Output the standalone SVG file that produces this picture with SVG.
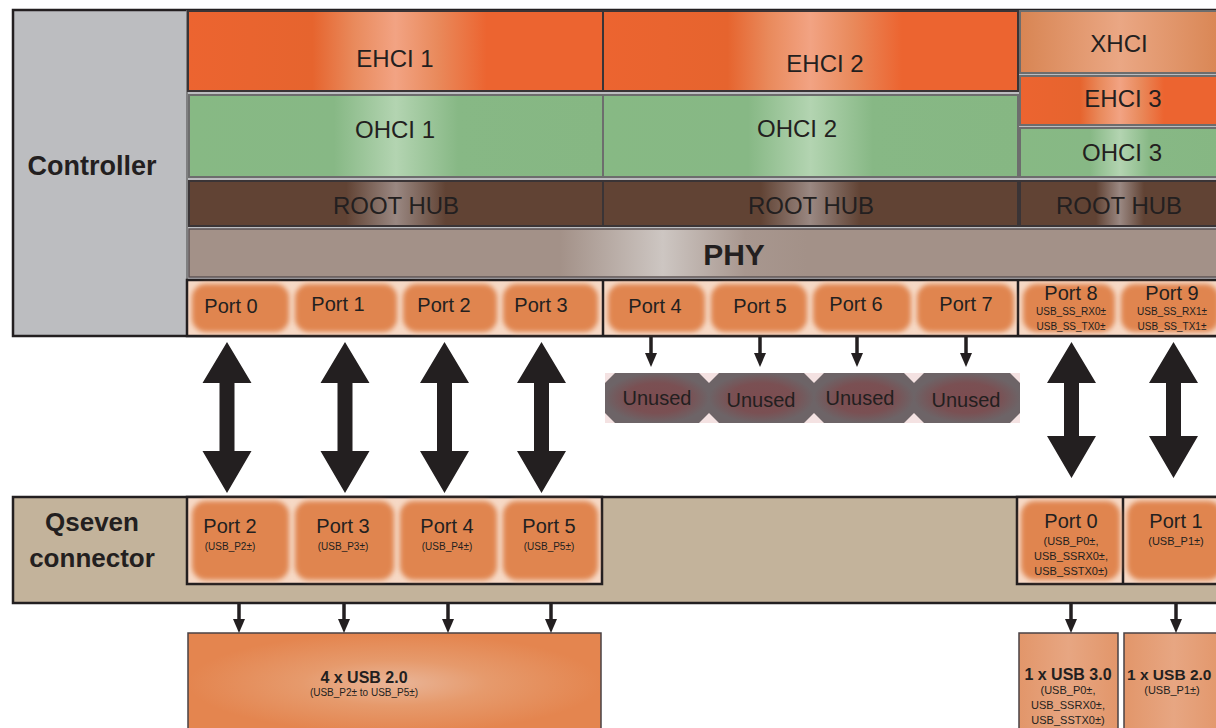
<svg xmlns="http://www.w3.org/2000/svg" width="1216" height="728" viewBox="0 0 1216 728">
<defs>
<style>
text{font-family:"Liberation Sans",Arial,sans-serif;fill:#231f20;text-anchor:middle}
.t24{font-size:24px}
.t20{font-size:20px}
.t10{font-size:10px}
.t11{font-size:11px}
.b{font-weight:bold}
.edge{stroke:#231f20;stroke-width:2.5}
.thin{stroke:#3a3436;stroke-width:2}
.gry{stroke:#6d6d6d;stroke-width:2}
.blob{fill:#e0854f;filter:url(#blur)}
.cellbg{fill:#f6d9c6}
.arrow{fill:#231f20}
.sarrow{stroke:#231f20;stroke-width:3.5;marker-end:url(#ah)}
</style>
<linearGradient id="gE" x1="0" x2="1" y1="0" y2="0">
<stop offset="0" stop-color="#ec6430"/><stop offset="0.3" stop-color="#e6642e"/><stop offset="0.4" stop-color="#e98a5c"/><stop offset="0.5" stop-color="#f2a383"/><stop offset="0.6" stop-color="#e98a5c"/><stop offset="0.72" stop-color="#ec6430"/><stop offset="1" stop-color="#ec6430"/>
</linearGradient>
<linearGradient id="gX" x1="0" x2="1" y1="0" y2="0">
<stop offset="0" stop-color="#d88553"/><stop offset="0.5" stop-color="#eaa784"/><stop offset="1" stop-color="#d98654"/>
</linearGradient>
<linearGradient id="gO" x1="0" x2="1" y1="0" y2="0">
<stop offset="0" stop-color="#87b984"/><stop offset="0.35" stop-color="#87b885"/><stop offset="0.5" stop-color="#b3d4b1"/><stop offset="0.65" stop-color="#87b885"/><stop offset="1" stop-color="#86b783"/>
</linearGradient>
<linearGradient id="gR" x1="0" x2="1" y1="0" y2="0">
<stop offset="0" stop-color="#614334"/><stop offset="0.38" stop-color="#614334"/><stop offset="0.5" stop-color="#9a8882"/><stop offset="0.62" stop-color="#614334"/><stop offset="1" stop-color="#614334"/>
</linearGradient>
<linearGradient id="gP" x1="0" x2="1" y1="0" y2="0">
<stop offset="0" stop-color="#a39188"/><stop offset="0.36" stop-color="#a39188"/><stop offset="0.46" stop-color="#cdc6c2"/><stop offset="0.54" stop-color="#a8978f"/><stop offset="0.6" stop-color="#a39188"/><stop offset="1" stop-color="#a39188"/>
</linearGradient>
<radialGradient id="gU" cx="0.5" cy="0.5" r="0.5">
<stop offset="0" stop-color="#7c4c50"/><stop offset="0.6" stop-color="#7a5053"/><stop offset="1" stop-color="#6d6467"/>
</radialGradient>
<radialGradient id="gL" cx="0.5" cy="0.5" r="0.5">
<stop offset="0" stop-color="#e9b598"/><stop offset="0.45" stop-color="#e69a6c"/><stop offset="1" stop-color="#e4854f"/>
</radialGradient>
<linearGradient id="gL2" x1="0" x2="1" y1="0" y2="0">
<stop offset="0" stop-color="#e2966a"/><stop offset="0.5" stop-color="#e7a682"/><stop offset="1" stop-color="#e2966a"/>
</linearGradient>
<filter id="blur" x="-10%" y="-15%" width="120%" height="130%"><feGaussianBlur stdDeviation="2.5"/></filter>
<marker id="ah" viewBox="0 0 14 12" refX="6" refY="6" markerWidth="14" markerHeight="12" orient="auto" markerUnits="userSpaceOnUse">
<path d="M0,0 L14,6 L0,12 Z" fill="#231f20"/>
</marker>
</defs>
<rect width="1216" height="728" fill="#ffffff"/>

<g id="controller">
<rect x="13" y="10" width="1220" height="326" fill="#bcbdc0" class="edge"/>
<line x1="187" y1="10" x2="187" y2="336" stroke="#6d6d6d" stroke-width="1.5"/>
<text x="92" y="175" class="b" style="font-size:27px">Controller</text>
</g>

<g id="ehci1"><rect x="188" y="11" width="415" height="80" fill="url(#gE)" class="thin"/><text x="395" y="67" class="t24">EHCI 1</text></g>
<g id="ehci2"><rect x="603" y="11" width="415" height="80" fill="url(#gE)" class="thin"/><text x="825" y="72" class="t24">EHCI 2</text></g>
<g id="xhci"><rect x="1020" y="11" width="200" height="62" fill="url(#gX)" class="gry"/><text x="1119" y="52" class="t24">XHCI</text></g>
<g id="ehci3"><rect x="1020" y="76" width="200" height="49" fill="url(#gE)" class="gry"/><text x="1123" y="107" class="t24">EHCI 3</text></g>
<g id="ohci1"><rect x="189" y="95" width="414" height="82" fill="url(#gO)" class="gry"/><text x="395" y="138" class="t24">OHCI 1</text></g>
<g id="ohci2"><rect x="603" y="95" width="415" height="82" fill="url(#gO)" class="gry"/><text x="797" y="137" class="t24">OHCI 2</text></g>
<g id="ohci3"><rect x="1020" y="128" width="200" height="49" fill="url(#gO)" class="gry"/><text x="1122" y="161" class="t24">OHCI 3</text></g>
<g id="roothub1"><rect x="189" y="181" width="414" height="45" fill="url(#gR)" class="thin"/><text x="396" y="214" class="t24">ROOT HUB</text></g>
<g id="roothub2"><rect x="603" y="181" width="415" height="45" fill="url(#gR)" class="thin"/><text x="811" y="214" class="t24">ROOT HUB</text></g>
<g id="roothub3"><rect x="1020" y="181" width="200" height="45" fill="url(#gR)" class="thin"/><text x="1119" y="214" class="t24">ROOT HUB</text></g>
<g id="phy"><rect x="189" y="229" width="1030" height="48" fill="url(#gP)" stroke="#5e5455" stroke-width="1.5"/><text x="734" y="265" class="b" style="font-size:30px">PHY</text></g>

<g id="ctrl-ports">
<rect x="187" y="280" width="1033" height="56" class="cellbg edge"/>
<line x1="603" y1="280" x2="603" y2="336" class="edge"/>
<line x1="1018" y1="280" x2="1018" y2="336" class="edge"/>
</g>
<g id="port0"><rect x="192" y="284" width="97" height="48" rx="14" class="blob"/><text x="231" y="313" class="t20">Port 0</text></g>
<g id="port1"><rect x="295" y="284" width="102" height="48" rx="14" class="blob"/><text x="338" y="311" class="t20">Port 1</text></g>
<g id="port2"><rect x="403" y="284" width="94" height="48" rx="14" class="blob"/><text x="444" y="312" class="t20">Port 2</text></g>
<g id="port3"><rect x="503" y="284" width="95" height="48" rx="14" class="blob"/><text x="541" y="312" class="t20">Port 3</text></g>
<g id="port4"><rect x="608" y="284" width="97" height="48" rx="14" class="blob"/><text x="655" y="313" class="t20">Port 4</text></g>
<g id="port5"><rect x="711" y="284" width="96" height="48" rx="14" class="blob"/><text x="760" y="313" class="t20">Port 5</text></g>
<g id="port6"><rect x="813" y="284" width="98" height="48" rx="14" class="blob"/><text x="856" y="311" class="t20">Port 6</text></g>
<g id="port7"><rect x="917" y="284" width="97" height="48" rx="14" class="blob"/><text x="966" y="311" class="t20">Port 7</text></g>
<g id="port8"><rect x="1023" y="284" width="92" height="48" rx="14" class="blob"/><text x="1071" y="300" class="t20">Port 8</text><text x="1071" y="315" class="t10">USB_SS_RX0±</text><text x="1071" y="330" class="t10">USB_SS_TX0±</text></g>
<g id="port9"><rect x="1121" y="284" width="98" height="48" rx="14" class="blob"/><text x="1172" y="300" class="t20">Port 9</text><text x="1172" y="315" class="t10">USB_SS_RX1±</text><text x="1172" y="330" class="t10">USB_SS_TX1±</text></g>

<g id="unused-bg"><rect x="605" y="373" width="415" height="50" fill="#f4e2e2"/></g>
<g id="unused4"><path d="M615,373 H699 L709,383 V413 L699,423 H615 L605,413 V383 Z" fill="url(#gU)"/><text x="657" y="405" class="t20">Unused</text></g>
<g id="unused5"><path d="M719,373 H804 L814,383 V413 L804,423 H719 L709,413 V383 Z" fill="url(#gU)"/><text x="761" y="407" class="t20">Unused</text></g>
<g id="unused6"><path d="M824,373 H904 L914,383 V413 L904,423 H824 L814,413 V383 Z" fill="url(#gU)"/><text x="860" y="405" class="t20">Unused</text></g>
<g id="unused7"><path d="M924,373 H1010 L1020,383 V413 L1010,423 H924 L914,413 V383 Z" fill="url(#gU)"/><text x="966" y="407" class="t20">Unused</text></g>

<g id="qseven">
<rect x="13" y="497" width="1220" height="106" fill="#c3b39b" class="edge"/>
<text x="92" y="531" class="b" style="font-size:26px">Qseven</text>
<text x="92" y="567" class="b" style="font-size:26px">connector</text>
<rect x="187" y="497" width="415" height="87" class="cellbg edge"/>
<rect x="1017" y="497" width="210" height="87" class="cellbg edge"/>
<line x1="1123" y1="497" x2="1123" y2="584" class="edge"/>
</g>
<g id="q-port2"><rect x="192" y="501" width="97" height="79" rx="14" class="blob"/><text x="230" y="533" class="t20">Port 2</text><text x="230" y="550" class="t10">(USB_P2±)</text></g>
<g id="q-port3"><rect x="295" y="501" width="99" height="79" rx="14" class="blob"/><text x="343" y="533" class="t20">Port 3</text><text x="343" y="550" class="t10">(USB_P3±)</text></g>
<g id="q-port4"><rect x="400" y="501" width="97" height="79" rx="14" class="blob"/><text x="447" y="533" class="t20">Port 4</text><text x="447" y="550" class="t10">(USB_P4±)</text></g>
<g id="q-port5"><rect x="503" y="501" width="95" height="79" rx="14" class="blob"/><text x="549" y="533" class="t20">Port 5</text><text x="549" y="550" class="t10">(USB_P5±)</text></g>
<g id="q-port0"><rect x="1021" y="501" width="99" height="79" rx="14" class="blob"/><text x="1071" y="528" class="t20">Port 0</text><text x="1071" y="545" class="t11">(USB_P0±,</text><text x="1071" y="560" class="t11">USB_SSRX0±,</text><text x="1071" y="575" class="t11">USB_SSTX0±)</text></g>
<g id="q-port1"><rect x="1127" y="501" width="95" height="79" rx="14" class="blob"/><text x="1176" y="528" class="t20">Port 1</text><text x="1176" y="545" class="t11">(USB_P1±)</text></g>

<g id="usb20x4"><rect x="188" y="633" width="413" height="100" fill="url(#gL)" stroke="#4a4244" stroke-width="1.5"/><text x="364" y="683" class="b" style="font-size:16px">4 x USB 2.0</text><text x="364" y="696" class="t10">(USB_P2± to USB_P5±)</text></g>
<g id="usb30"><rect x="1019" y="633" width="99" height="100" fill="url(#gL2)" stroke="#4a4244" stroke-width="1.5"/><text x="1068" y="680" class="b" style="font-size:16px">1 x USB 3.0</text><text x="1068" y="694" class="t11">(USB_P0±,</text><text x="1068" y="709" class="t11">USB_SSRX0±,</text><text x="1068" y="724" class="t11">USB_SSTX0±)</text></g>
<g id="usb20"><rect x="1124" y="633" width="100" height="100" fill="url(#gL2)" stroke="#4a4244" stroke-width="1.5"/><text x="1127" y="680" class="b" style="font-size:15.5px;text-anchor:start">1 x USB 2.0</text><text x="1172" y="694" class="t11">(USB_P1±)</text></g>

<g id="connectors">
<path class="arrow" d="M227,342 L251.5,383 L234.5,383 L234.5,451 L251.5,451 L227,493 L202.5,451 L219.5,451 L219.5,383 L202.5,383 Z"/>
<path class="arrow" d="M345,342 L369.5,383 L352.5,383 L352.5,451 L369.5,451 L345,493 L320.5,451 L337.5,451 L337.5,383 L320.5,383 Z"/>
<path class="arrow" d="M444.5,342 L469,383 L452,383 L452,451 L469,451 L444.5,493 L420,451 L437,451 L437,383 L420,383 Z"/>
<path class="arrow" d="M541.5,342 L566,383 L549,383 L549,451 L566,451 L541.5,493 L517,451 L534,451 L534,383 L517,383 Z"/>
<path class="arrow" d="M1071.5,342 L1096,383 L1079,383 L1079,436 L1096,436 L1071.5,478 L1047,436 L1064,436 L1064,383 L1047,383 Z"/>
<path class="arrow" d="M1173.5,342 L1198,383 L1181,383 L1181,436 L1198,436 L1173.5,478 L1149,436 L1166,436 L1166,383 L1149,383 Z"/>
<line class="sarrow" x1="651" y1="337" x2="651" y2="359"/>
<line class="sarrow" x1="760" y1="337" x2="760" y2="359"/>
<line class="sarrow" x1="857" y1="337" x2="857" y2="359"/>
<line class="sarrow" x1="966" y1="337" x2="966" y2="359"/>
<line class="sarrow" x1="239" y1="604" x2="239" y2="625"/>
<line class="sarrow" x1="344" y1="604" x2="344" y2="625"/>
<line class="sarrow" x1="448" y1="604" x2="448" y2="625"/>
<line class="sarrow" x1="551" y1="604" x2="551" y2="625"/>
<line class="sarrow" x1="1071" y1="604" x2="1071" y2="625"/>
<line class="sarrow" x1="1176" y1="604" x2="1176" y2="625"/>
</g>
</svg>
